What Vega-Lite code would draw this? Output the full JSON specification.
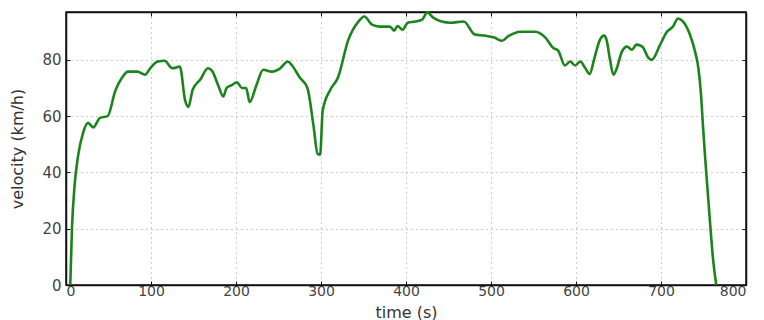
{
  "$schema": "https://vega.github.io/schema/vega-lite/v6.json",
  "width": 680,
  "height": 273,
  "autosize": "none",
  "padding": {"left": 66, "top": 12, "right": 18, "bottom": 35},
  "background": "white",
  "config": {
    "view": {"stroke": "#111", "strokeWidth": 1.5},
    "font": "DejaVu Sans"
  },
  "data": {"values": [
    {"t": 5, "v": 0}, {"t": 7, "v": 20}, {"t": 10, "v": 35}, {"t": 14, "v": 45.5}, {"t": 20, "v": 54},
    {"t": 26, "v": 57.6}, {"t": 32, "v": 56}, {"t": 40, "v": 59.4}, {"t": 49, "v": 60},
    {"t": 58, "v": 69}, {"t": 66, "v": 73.7}, {"t": 73, "v": 75.8}, {"t": 84, "v": 75.8},
    {"t": 93, "v": 74.7}, {"t": 99, "v": 77}, {"t": 108, "v": 79.4}, {"t": 116, "v": 79.7},
    {"t": 125, "v": 77}, {"t": 134, "v": 77.6}, {"t": 140, "v": 65.8}, {"t": 144, "v": 63.3},
    {"t": 149, "v": 69.4}, {"t": 158, "v": 73}, {"t": 167, "v": 77}, {"t": 172, "v": 76},
    {"t": 179, "v": 71}, {"t": 185, "v": 67}, {"t": 189, "v": 70}, {"t": 195, "v": 71},
    {"t": 201, "v": 72}, {"t": 207, "v": 70}, {"t": 212, "v": 70}, {"t": 216, "v": 65},
    {"t": 224, "v": 71}, {"t": 232, "v": 76.5}, {"t": 242, "v": 75.8}, {"t": 252, "v": 77},
    {"t": 261, "v": 79.4}, {"t": 266, "v": 78}, {"t": 275, "v": 73.7}, {"t": 284, "v": 70},
    {"t": 291, "v": 57}, {"t": 296, "v": 46.6}, {"t": 299, "v": 46.3}, {"t": 302, "v": 62},
    {"t": 311, "v": 69.4}, {"t": 320, "v": 73.7}, {"t": 332, "v": 87}, {"t": 344, "v": 93.6},
    {"t": 351, "v": 95.4}, {"t": 360, "v": 92.5}, {"t": 369, "v": 91.8}, {"t": 381, "v": 91.8},
    {"t": 386, "v": 90.4}, {"t": 390, "v": 92}, {"t": 396, "v": 90.7}, {"t": 402, "v": 93.2},
    {"t": 411, "v": 93.6}, {"t": 419, "v": 94.3}, {"t": 425, "v": 96.8}, {"t": 432, "v": 95},
    {"t": 442, "v": 93.6}, {"t": 452, "v": 93.2}, {"t": 468, "v": 93.6}, {"t": 481, "v": 89},
    {"t": 493, "v": 88.6}, {"t": 504, "v": 87.9}, {"t": 513, "v": 86.8}, {"t": 520, "v": 88.3},
    {"t": 534, "v": 90}, {"t": 552, "v": 90}, {"t": 564, "v": 87.9}, {"t": 573, "v": 84.3},
    {"t": 579, "v": 83.3}, {"t": 587, "v": 78}, {"t": 593, "v": 79.4}, {"t": 599, "v": 78},
    {"t": 605, "v": 79.4}, {"t": 611, "v": 77}, {"t": 616, "v": 75}, {"t": 622, "v": 81},
    {"t": 628, "v": 87}, {"t": 633, "v": 88.6}, {"t": 636, "v": 87}, {"t": 640, "v": 80},
    {"t": 644, "v": 74.7}, {"t": 648, "v": 77}, {"t": 654, "v": 82.9}, {"t": 660, "v": 84.7},
    {"t": 666, "v": 83.6}, {"t": 671, "v": 85.4}, {"t": 678, "v": 84.7}, {"t": 685, "v": 80.8},
    {"t": 689, "v": 80}, {"t": 699, "v": 85.4}, {"t": 707, "v": 90}, {"t": 714, "v": 91.8},
    {"t": 720, "v": 94.7}, {"t": 726, "v": 93.6}, {"t": 734, "v": 89}, {"t": 740, "v": 83},
    {"t": 744, "v": 77}, {"t": 747, "v": 68}, {"t": 749.5, "v": 56}, {"t": 752, "v": 45},
    {"t": 755, "v": 33}, {"t": 758, "v": 21}, {"t": 761, "v": 10}, {"t": 765, "v": 0}
  ]},
  "layer": [
    {
      "mark": {"type": "line", "color": "#1d841d", "strokeWidth": 2.6, "interpolate": "monotone"},
      "encoding": {
        "x": {
          "field": "t", "type": "quantitative",
          "scale": {"domain": [0, 800], "nice": false, "zero": false},
          "axis": {
            "title": "time (s)", "values": [0, 100, 200, 300, 400, 500, 600, 700, 800],
            "grid": true, "gridDash": [1, 4], "gridColor": "#9a9a9a", "gridWidth": 1,
            "domainColor": "#111", "domainWidth": 1.5, "tickColor": "#111", "tickSize": -4,
            "labelPadding": 3, "labelFontSize": 14, "labelColor": "#444",
            "titleFontSize": 16, "titleFontWeight": "normal", "titleColor": "#333",
            "titleY": 32, "titleBaseline": "alphabetic"
          }
        },
        "y": {
          "field": "v", "type": "quantitative",
          "scale": {"domain": [0, 97], "nice": false},
          "axis": {
            "title": "velocity (km/h)", "values": [0, 20, 40, 60, 80],
            "grid": true, "gridDash": [1, 4], "gridColor": "#9a9a9a", "gridWidth": 1,
            "domainColor": "#111", "domainWidth": 1.5, "tickColor": "#111", "tickSize": -4,
            "labelPadding": 9, "labelFontSize": 15, "labelColor": "#444",
            "titleFontSize": 16, "titleFontWeight": "normal", "titleColor": "#333",
            "titlePadding": 16
          }
        }
      }
    },
    {
      "mark": {"type": "line", "strokeOpacity": 0},
      "encoding": {
        "x": {
          "field": "t", "type": "quantitative",
          "axis": {"orient": "top", "title": null, "labels": false, "grid": false,
                   "values": [0, 100, 200, 300, 400, 500, 600, 700, 800],
                   "domainColor": "#111", "domainWidth": 1.5, "tickColor": "#111", "tickSize": -4}
        },
        "y": {
          "field": "v", "type": "quantitative",
          "axis": {"orient": "right", "title": null, "labels": false, "grid": false,
                   "values": [0, 20, 40, 60, 80],
                   "domainColor": "#111", "domainWidth": 1.5, "tickColor": "#111", "tickSize": -4}
        }
      }
    }
  ],
  "resolve": {"axis": {"x": "independent", "y": "independent"}}
}
